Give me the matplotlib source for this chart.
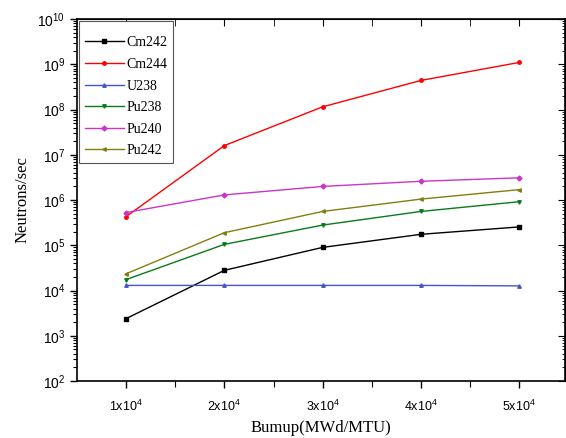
import matplotlib
matplotlib.use('Agg')
import matplotlib.pyplot as plt
from matplotlib.ticker import FixedLocator, LogLocator, NullFormatter

plt.rcParams['mathtext.default'] = 'regular'

burnup = [1e4, 2e4, 3e4, 4e4, 5e4]
xlabels = [r'$1x10^{4}$', r'$2x10^{4}$', r'$3x10^{4}$', r'$4x10^{4}$', r'$5x10^{4}$']

cm242 = [2.4e3, 2.8e4, 9.0e4, 1.75e5, 2.55e5]
cm244 = [4.3e5, 1.6e7, 1.15e8, 4.4e8, 1.1e9]
u238 = [1.3e4, 1.3e4, 1.3e4, 1.3e4, 1.27e4]
pu238 = [1.75e4, 1.05e5, 2.8e5, 5.6e5, 9.2e5]
pu240 = [5.3e5, 1.3e6, 2.0e6, 2.6e6, 3.1e6]
pu242 = [2.35e4, 1.9e5, 5.6e5, 1.05e6, 1.7e6]

series = [
    ('Cm242', cm242, 'black', 's'),
    ('Cm244', cm244, '#ff0000', 'o'),
    ('U238', u238, '#4455cc', '^'),
    ('Pu238', pu238, '#0a7a1a', 'v'),
    ('Pu240', pu240, '#cc33cc', 'D'),
    ('Pu242', pu242, '#808010', '<'),
]

fig = plt.figure(figsize=(5.66, 4.38), dpi=100)
ax = fig.add_axes([0.136, 0.130, 0.863, 0.8265])

for name, vals, col, mk in series:
    ax.plot(burnup, vals, color=col, marker=mk, markersize=2.5, linewidth=1.0, label=name)

ax.set_yscale('log')
ax.set_ylim(1e2, 1e10)
ax.set_xlim(0.5e4, 5.47e4)

ax.xaxis.set_major_locator(FixedLocator(burnup))
ax.set_xticklabels(xlabels, family='Liberation Sans', fontsize=9)
ax.xaxis.set_minor_locator(FixedLocator([1.5e4, 2.5e4, 3.5e4, 4.5e4]))
ax.yaxis.set_major_locator(LogLocator(base=10, numticks=20))
ax.yaxis.set_minor_locator(LogLocator(base=10, subs=range(2, 10), numticks=100))
ax.yaxis.set_minor_formatter(NullFormatter())
for t in ax.get_yticklabels():
    t.set_family('Liberation Sans')
    t.set_fontsize(10)

ax.tick_params(which='major', direction='out', length=5, width=1)
ax.tick_params(which='minor', direction='out', length=3, width=0.8)
ax.tick_params(axis='x', which='minor', length=4)
ax.tick_params(axis='x', which='major', pad=8)
for s in ax.spines.values():
    s.set_linewidth(1.2)

top = ax.secondary_xaxis('top')
top.xaxis.set_major_locator(FixedLocator(burnup))
top.xaxis.set_minor_locator(FixedLocator([1.5e4, 2.5e4, 3.5e4, 4.5e4]))
top.tick_params(which='both', direction='in', labeltop=False, length=5)
right = ax.secondary_yaxis('right')
right.yaxis.set_major_locator(LogLocator(base=10, numticks=20))
right.yaxis.set_minor_locator(LogLocator(base=10, subs=range(2, 10), numticks=100))
right.tick_params(which='major', direction='in', labelright=False, length=5)
right.tick_params(which='minor', direction='in', labelright=False, length=2.5)

ax.set_xlabel('Bumup(MWd/MTU)', family='Liberation Serif', fontsize=12, labelpad=4)
ax.set_ylabel('Neutrons/sec', family='Liberation Serif', fontsize=12, labelpad=5)

leg = ax.legend(loc='upper left', prop={'family': 'Liberation Serif', 'size': 10},
                fancybox=False, edgecolor='#555555', framealpha=1,
                handlelength=2.8, labelspacing=0.62, borderaxespad=0.15,
                borderpad=0.4, handletextpad=0.2,
                title=' ', title_fontproperties={'size': 1})
leg.get_frame().set_linewidth(0.8)

fig.savefig('out.png', dpi=100)
